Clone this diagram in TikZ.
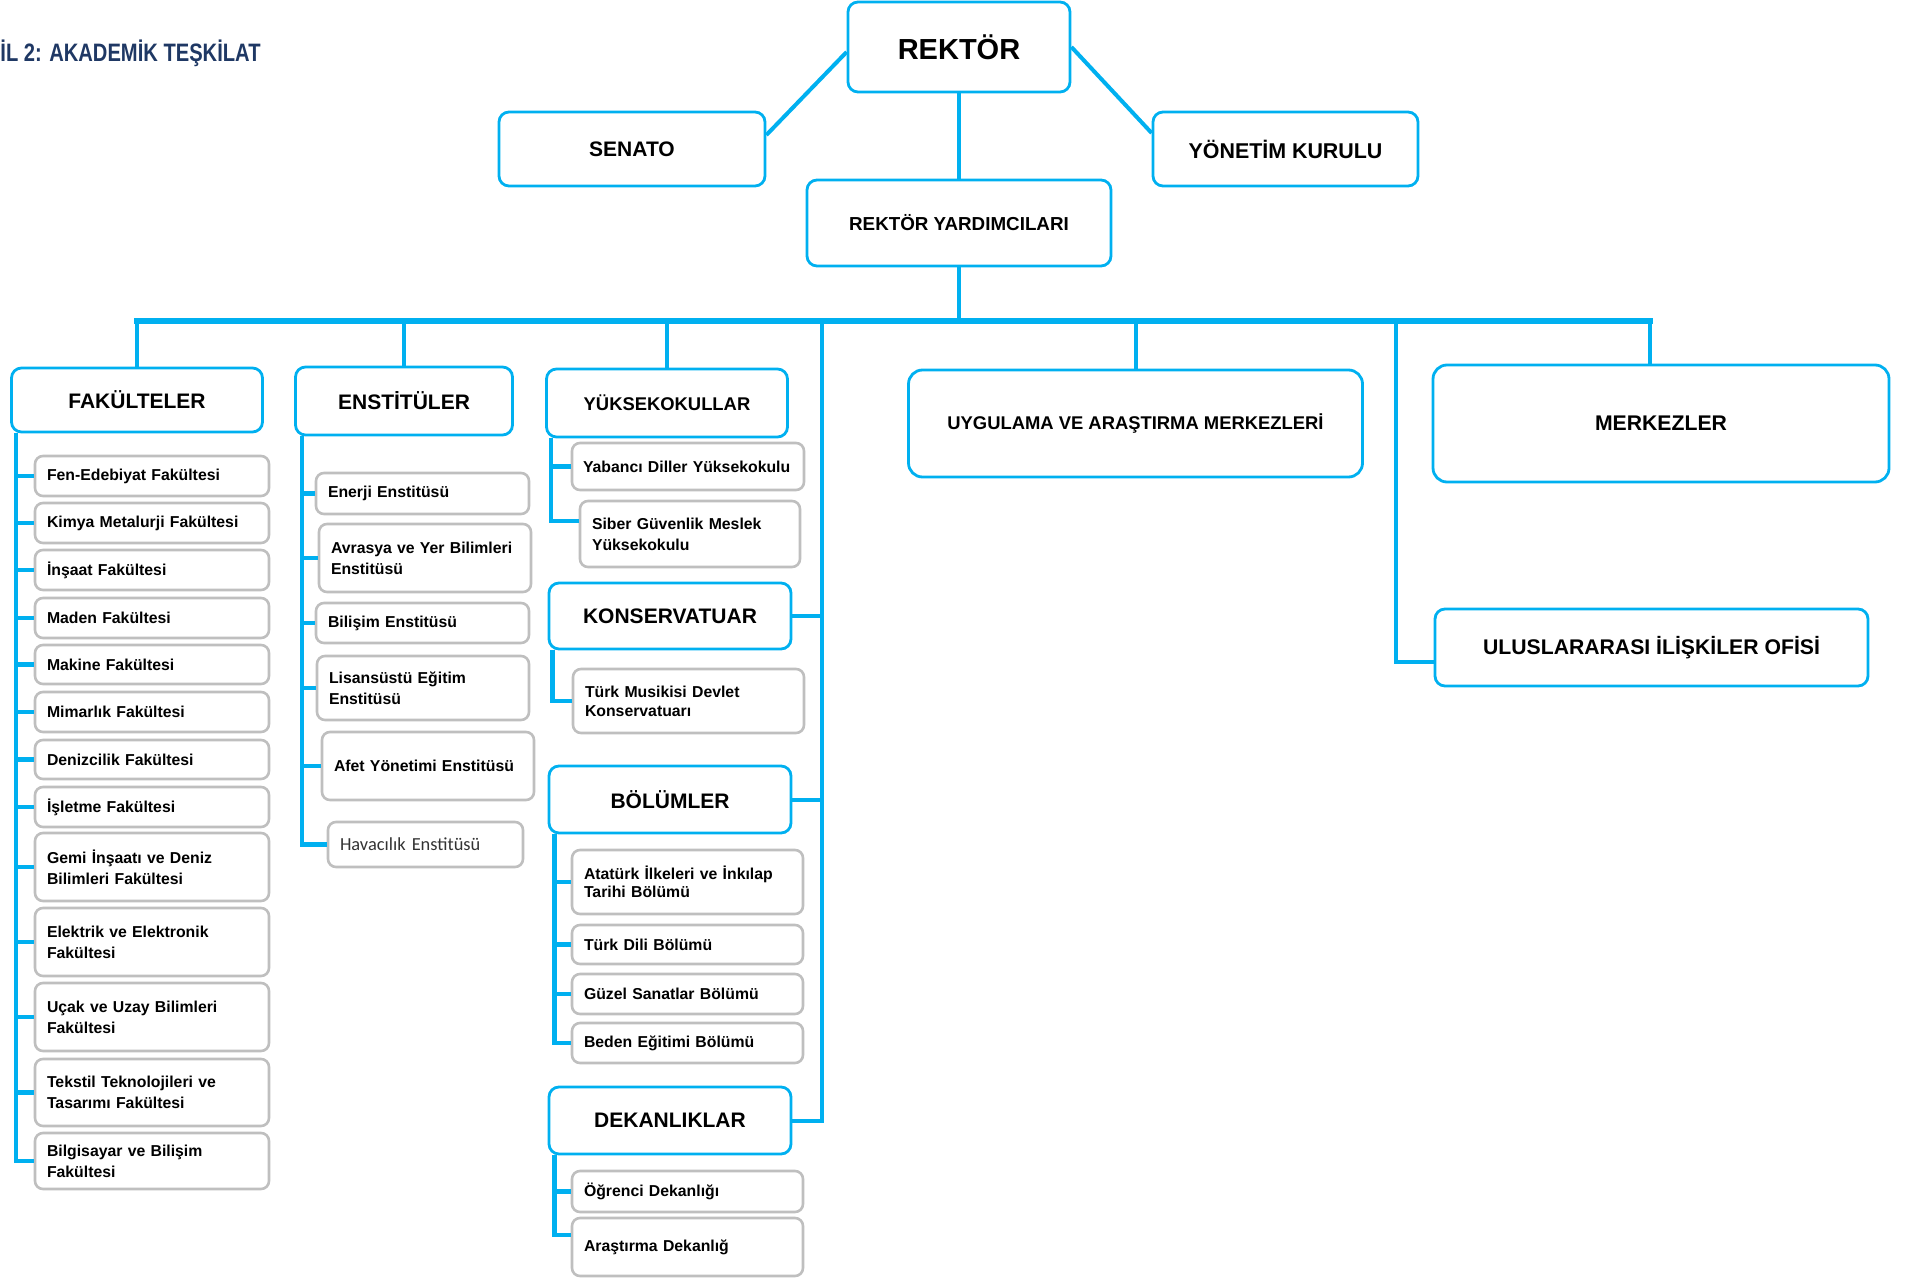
\documentclass[tikz,border=0pt]{standalone}
\usepackage{fontspec}
\usepackage{graphicx}
\setmainfont{Liberation Sans}
\newfontfamily\calibrifont{Carlito}
\definecolor{orgblue}{RGB}{0,176,240}
\definecolor{subgray}{RGB}{191,191,191}
\definecolor{titlenavy}{RGB}{31,56,100}
\begin{document}
\begin{tikzpicture}[x=0.5pt,y=0.5pt,yscale=-1,xscale=1,
  headbox/.style={draw=orgblue, line width=1.4pt, rounded corners=5pt, fill=white, align=center, inner sep=0pt, font=\bfseries\fontsize{10.5}{12.6}\selectfont},
  itembox/.style={draw=subgray, line width=1.3pt, rounded corners=4pt, fill=white, align=left, inner xsep=6pt, inner ysep=0pt, font=\bfseries\fontsize{7.9}{10.5}\selectfont},
  fakitem/.style={itembox, text width=105pt},
  conn/.style={draw=orgblue, line width=2pt},
  busline/.style={draw=orgblue, line width=2.6pt, line cap=rect},
  branch/.style={draw=orgblue, line width=2.3pt}]
\useasboundingbox (0,0) rectangle (1905,1278);

% Text Node
\node[anchor=base west, inner sep=0pt, text=titlenavy, font=\bfseries\fontsize{12.6}{14}\selectfont] (ttl) at (0,62) {\scalebox{0.8}[1]{İL 2: AKADEMİK TEŞKİLAT}};

%Shape: Rectangle [top]
\node[headbox, minimum width=111pt, minimum height=45pt, font=\bfseries\fontsize{14.5}{17}\selectfont] (rek) at (959,47) {REKTÖR};
\node[headbox, minimum width=133pt, minimum height=37pt] (sen) at (632,149) {SENATO};
\node[headbox, minimum width=132.5pt, minimum height=37pt, font=\bfseries\fontsize{10.7}{13}\selectfont] (yon) at (1285.5,149) {YÖNETİM KURULU};
\node[headbox, minimum width=152pt, minimum height=43pt, font=\bfseries\fontsize{9.4}{11}\selectfont] (ryard) at (959,223) {REKTÖR YARDIMCILARI};

%Shape: Rectangle [units]
\node[headbox, minimum width=125.5pt, minimum height=32pt] (fak) at (137,400) {FAKÜLTELER};
\node[headbox, minimum width=108.5pt, minimum height=34pt] (enst) at (404,401) {ENSTİTÜLER};
\node[headbox, minimum width=120.5pt, minimum height=34pt, font=\bfseries\fontsize{9.2}{11}\selectfont] (yuk) at (667,403) {YÜKSEKOKULLAR};
\node[headbox, minimum width=227pt, minimum height=53.5pt, rounded corners=7pt, font=\bfseries\fontsize{9.2}{11}\selectfont] (uyg) at (1135.5,423.5) {UYGULAMA VE ARAŞTIRMA MERKEZLERİ};
\node[headbox, minimum width=228pt, minimum height=58.5pt, rounded corners=7pt, font=\bfseries\fontsize{10.6}{12.6}\selectfont] (merk) at (1661,423.5) {MERKEZLER};
\node[headbox, minimum width=216.5pt, minimum height=38.5pt, font=\bfseries\fontsize{10.6}{12.6}\selectfont] (ulus) at (1651.5,647.5) {ULUSLARARASI İLİŞKİLER OFİSİ};
\node[headbox, minimum width=121pt, minimum height=33pt] (kons) at (670,616) {KONSERVATUAR};
\node[headbox, minimum width=121pt, minimum height=33.5pt] (bol) at (670,799.5) {BÖLÜMLER};
\node[headbox, minimum width=121pt, minimum height=33.5pt] (dek) at (670,1120.5) {DEKANLIKLAR};

%Shape: Rectangle [faculties]
\node[fakitem, minimum height=20pt] (f1) at (152,476) {Fen-Edebiyat Fakültesi};
\node[fakitem, minimum height=20pt] (f2) at (152,523) {Kimya Metalurji Fakültesi};
\node[fakitem, minimum height=20pt] (f3) at (152,570) {İnşaat Fakültesi};
\node[fakitem, minimum height=20pt] (f4) at (152,618) {Maden Fakültesi};
\node[fakitem, minimum height=19.5pt] (f5) at (152,664.5) {Makine Fakültesi};
\node[fakitem, minimum height=20pt] (f6) at (152,712) {Mimarlık Fakültesi};
\node[fakitem, minimum height=19.5pt] (f7) at (152,759.5) {Denizcilik Fakültesi};
\node[fakitem, minimum height=20pt] (f8) at (152,807) {İşletme Fakültesi};
\node[fakitem, minimum height=34pt] (f9) at (152,867) {Gemi İnşaatı ve Deniz\\Bilimleri Fakültesi};
\node[fakitem, minimum height=34pt] (f10) at (152,942) {Elektrik ve Elektronik\\Fakültesi};
\node[fakitem, minimum height=34pt] (f11) at (152,1017) {Uçak ve Uzay Bilimleri\\Fakültesi};
\node[fakitem, minimum height=33.5pt] (f12) at (152,1092.5) {Tekstil Teknolojileri ve\\Tasarımı Fakültesi};
\node[fakitem, minimum height=28pt] (f13) at (152,1161) {Bilgisayar ve Bilişim\\Fakültesi};

%Shape: Rectangle [institutes]
\node[itembox, text width=94.5pt, minimum height=20.5pt] (e1) at (422.5,493.5) {Enerji Enstitüsü};
\node[itembox, text width=94pt, minimum height=34pt] (e2) at (425,558) {Avrasya ve Yer Bilimleri\\Enstitüsü};
\node[itembox, text width=94.5pt, minimum height=20pt] (e3) at (422.5,623) {Bilişim Enstitüsü};
\node[itembox, text width=94pt, minimum height=32pt] (e4) at (423,688) {Lisansüstü Eğitim\\Enstitüsü};
\node[itembox, text width=94pt, minimum height=34pt] (e5) at (428,766) {Afet Yönetimi Enstitüsü};
\node[itembox, text width=85.5pt, minimum height=22.5pt, text=black!80, font=\calibrifont\fontsize{9.2}{11}\selectfont] (e6) at (425.5,844.5) {Havacılık Enstitüsü};

%Shape: Rectangle [schools]
\node[itembox, inner xsep=5.5pt, text width=105pt, minimum height=23.5pt] (y1) at (688,466.5) {Yabancı Diller Yüksekokulu};
\node[itembox, text width=98pt, minimum height=33pt] (y2) at (690,534) {Siber Güvenlik Meslek\\Yüksekokulu};
\node[itembox, text width=103.5pt, minimum height=32pt, font=\bfseries\fontsize{7.9}{9.5}\selectfont] (k1) at (688.5,701) {Türk Musikisi Devlet\\Konservatuarı};

%Shape: Rectangle [departments]
\node[itembox, text width=103.5pt, minimum height=32pt, font=\bfseries\fontsize{7.9}{9}\selectfont] (b1) at (687.5,882) {Atatürk İlkeleri ve İnkılap\\Tarihi Bölümü};
\node[itembox, text width=103.5pt, minimum height=19.5pt] (b2) at (687.5,944.5) {Türk Dili Bölümü};
\node[itembox, text width=103.5pt, minimum height=20pt] (b3) at (687.5,994) {Güzel Sanatlar Bölümü};
\node[itembox, text width=103.5pt, minimum height=20pt] (b4) at (687.5,1043) {Beden Eğitimi Bölümü};

%Shape: Rectangle [deans]
\node[itembox, text width=103.5pt, minimum height=20.5pt] (d1) at (687.5,1191.5) {Öğrenci Dekanlığı};
\node[itembox, text width=103.5pt, minimum height=29pt] (d2) at (687.5,1247) {Araştırma Dekanlığ};

%Straight Lines [rector]
\draw[conn] ([yshift=2.5pt]rek.west) -- ([yshift=-7pt]sen.east);
\draw[conn] (rek.east) -- ([yshift=-8pt]yon.west);
\draw[conn] (rek.south) -- (ryard.north);

%Straight Lines [bus]
\coordinate (bus) at (0,321);
\coordinate (mv) at (822,321);
\coordinate (rv) at (1396,321);
\coordinate (mdrop) at ([xshift=-5.5pt]merk.north);
\draw[conn] (ryard.south) -- (ryard.south |- bus);
\draw[busline] (fak.north |- bus) -- (mdrop |- bus);
\draw[conn] (fak.north |- bus) -- (fak.north);
\draw[conn] (enst.north |- bus) -- (enst.north);
\draw[conn] (yuk.north |- bus) -- (yuk.north);
\draw[conn] (uyg.north |- bus) -- (uyg.north);
\draw[conn] (mdrop |- bus) -- (mdrop);
\draw[conn] (mv) |- (dek.east);
\draw[conn] (kons.east) -- (kons.east -| mv);
\draw[conn] (bol.east) -- (bol.east -| mv);
\draw[conn] (rv) |- ([yshift=7pt]ulus.west);

%Straight Lines [faculties]
\coordinate (fs) at ([xshift=3pt]fak.south west);
\draw[branch] (fs) |- (f13.west);
\draw[branch] (fs |- f1.west) -- (f1.west);
\draw[branch] (fs |- f2.west) -- (f2.west);
\draw[branch] (fs |- f3.west) -- (f3.west);
\draw[branch] (fs |- f4.west) -- (f4.west);
\draw[branch] (fs |- f5.west) -- (f5.west);
\draw[branch] (fs |- f6.west) -- (f6.west);
\draw[branch] (fs |- f7.west) -- (f7.west);
\draw[branch] (fs |- f8.west) -- (f8.west);
\draw[branch] (fs |- f9.west) -- (f9.west);
\draw[branch] (fs |- f10.west) -- (f10.west);
\draw[branch] (fs |- f11.west) -- (f11.west);
\draw[branch] (fs |- f12.west) -- (f12.west);

%Straight Lines [institutes]
\coordinate (es) at ([xshift=4pt]enst.south west);
\draw[branch] (es) |- (e6.west);
\draw[branch] (es |- e1.west) -- (e1.west);
\draw[branch] (es |- e2.west) -- (e2.west);
\draw[branch] (es |- e3.west) -- (e3.west);
\draw[branch] (es |- e4.west) -- (e4.west);
\draw[branch] (es |- e5.west) -- (e5.west);

%Straight Lines [schools]
\coordinate (ys) at ([xshift=3pt]yuk.south west);
\draw[branch] (ys) |- ([yshift=-6.5pt]y2.west);
\draw[branch] (ys |- y1.west) -- (y1.west);
\coordinate (ks) at ([xshift=2.5pt]kons.south west);
\draw[branch] (ks) |- (k1.west);

%Straight Lines [departments]
\coordinate (bs) at ([xshift=3.5pt]bol.south west);
\draw[branch] (bs) |- (b4.west);
\draw[branch] (bs |- b1.west) -- (b1.west);
\draw[branch] (bs |- b2.west) -- (b2.west);
\draw[branch] (bs |- b3.west) -- (b3.west);
\coordinate (ds) at ([xshift=3.5pt]dek.south west);
\draw[branch] (ds) |- ([yshift=-6pt]d2.west);
\draw[branch] (ds |- d1.west) -- (d1.west);

\end{tikzpicture}
\end{document}
